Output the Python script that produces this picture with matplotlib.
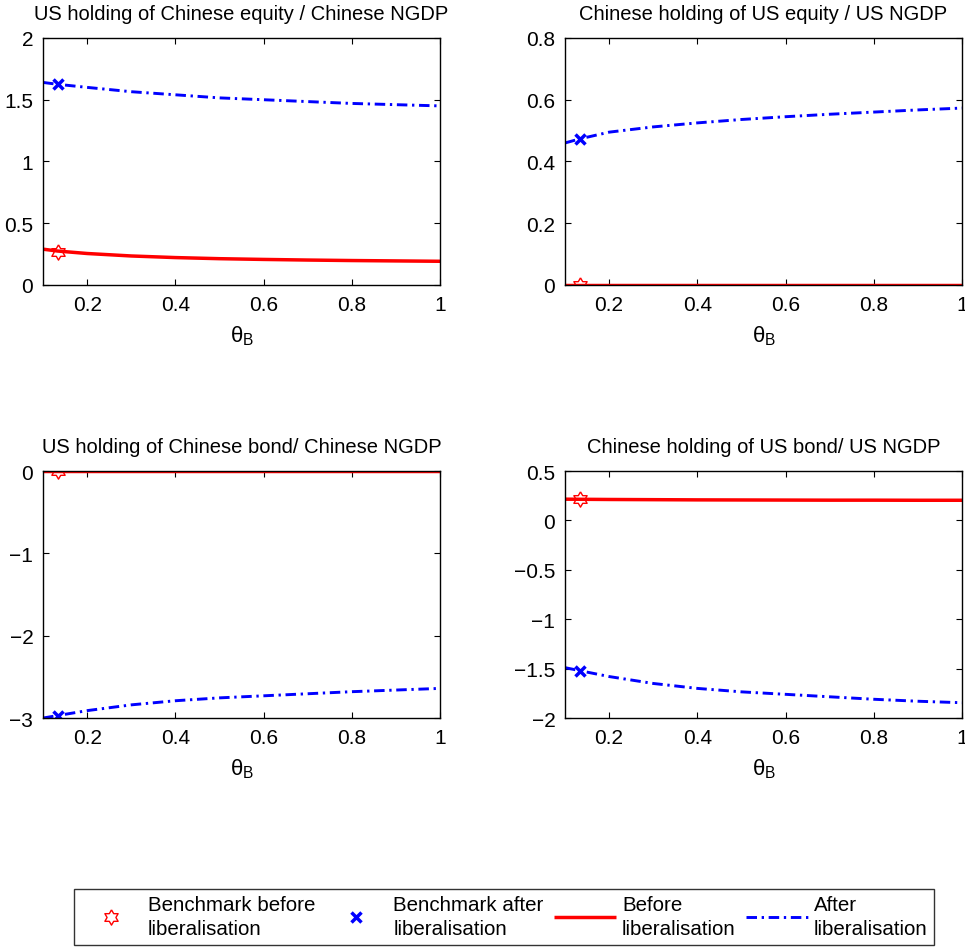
import numpy as np
import matplotlib
matplotlib.use("Agg")
from matplotlib import pyplot as plt

plt.rcParams['font.family'] = ['Liberation Sans', 'DejaVu Sans']
plt.rcParams['mathtext.fontset'] = 'custom'
plt.rcParams['mathtext.rm'] = 'Liberation Sans'
plt.rcParams['mathtext.it'] = 'Liberation Sans'

# theta_B grid
theta = [0.1, 0.133, 0.2, 0.3, 0.4, 0.5, 0.6, 0.7, 0.8, 0.9, 1.0]
theta_bench = 0.133

titles = ["US holding of Chinese equity / Chinese NGDP",
          "Chinese holding of US equity / US NGDP",
          "US holding of Chinese bond/ Chinese NGDP",
          "Chinese holding of US bond/ US NGDP"]

before_us_eq = [0.29, 0.275, 0.255, 0.235, 0.222, 0.213, 0.207, 0.202, 0.198, 0.195, 0.192]
after_us_eq = [1.64, 1.625, 1.60, 1.565, 1.54, 1.515, 1.50, 1.485, 1.47, 1.46, 1.45]
before_cn_eq = [0.0] * 11
after_cn_eq = [0.46, 0.473, 0.495, 0.512, 0.525, 0.536, 0.545, 0.553, 0.56, 0.567, 0.573]
before_us_bd = [0.0] * 11
after_us_bd = [-3.0, -2.97, -2.91, -2.84, -2.79, -2.755, -2.73, -2.705, -2.68, -2.66, -2.64]
before_cn_bd = [0.215, 0.214, 0.212, 0.21, 0.208, 0.207, 0.206, 0.205, 0.205, 0.204, 0.204]
after_cn_bd = [-1.49, -1.52, -1.58, -1.65, -1.70, -1.735, -1.76, -1.785, -1.81, -1.83, -1.845]

bench_before = [0.27, 0.0, 0.0, 0.215]
bench_after = [1.625, 0.473, -2.97, -1.52]

ylims = [(0, 2), (0, 0.8), (-3, 0), (-2, 0.5)]
yticks = [np.arange(0, 2.01, 0.5), np.arange(0, 0.81, 0.2),
          np.arange(-3, 0.01, 1), np.arange(-2, 0.51, 0.5)]
ytick_labels = [["0", "0.5", "1", "1.5", "2"],
                ["0", "0.2", "0.4", "0.6", "0.8"],
                ["\u22123", "\u22122", "\u22121", "0"],
                ["\u22122", "\u22121.5", "\u22121", "\u22120.5", "0", "0.5"]]

befores = [before_us_eq, before_cn_eq, before_us_bd, before_cn_bd]
afters = [after_us_eq, after_cn_eq, after_us_bd, after_cn_bd]

fig = plt.figure(figsize=(9.65, 9.53), dpi=100)
lefts = [0.0446, 0.5855, 0.0446, 0.5855]
bottoms = [0.6999, 0.6999, 0.2455, 0.2455]
w, h = 0.4114, 0.2592

# hexagram marker (star of David outline)
outer = np.deg2rad(90 + np.arange(0, 360, 60))
inner = outer + np.pi / 6
hexagram = []
for a, b in zip(outer, inner):
    hexagram.append((np.cos(a), np.sin(a)))
    hexagram.append((np.cos(b) / np.sqrt(3), np.sin(b) / np.sqrt(3)))
hexagram.append(hexagram[0])

handles = None
for i in range(4):
    ax = fig.add_axes([lefts[i], bottoms[i], w, h])
    lb, = ax.plot(theta, befores[i], color='red', lw=2.5, solid_capstyle='butt')
    la, = ax.plot(theta, afters[i], color='blue', lw=2.1,
                  linestyle=(0, (3.6, 1.6, 0.8, 1.6)))
    ms, = ax.plot([theta_bench], [bench_before[i]], linestyle='none', marker=hexagram,
                  markersize=11, markerfacecolor='none', markeredgecolor='red', markeredgewidth=1)
    mx, = ax.plot([theta_bench], [bench_after[i]], linestyle='none', marker='x',
                  markersize=7, markeredgecolor='blue', markeredgewidth=2.5)
    ax.set_xlim(0.1, 1)
    ax.set_ylim(*ylims[i])
    ax.set_xticks([0.2, 0.4, 0.6, 0.8, 1.0])
    ax.set_xticklabels(["0.2", "0.4", "0.6", "0.8", "1"])
    ax.set_yticks(yticks[i])
    ax.set_yticklabels(ytick_labels[i])
    ax.tick_params(direction='in', top=True, right=True, labelsize=15, length=4, pad=7)
    ax.set_title(titles[i], fontsize=14.5, pad=14)
    ax.set_xlabel(r'$\theta_B$', fontsize=16, labelpad=7)
    for s in ax.spines.values():
        s.set_linewidth(1)
    handles = [ms, mx, lb, la]

leg = fig.legend(handles,
                 ["Benchmark before\nliberalisation", "Benchmark after\nliberalisation",
                  "Before\nliberalisation", "After\nliberalisation"],
                 loc='lower left', bbox_to_anchor=(0.066, -0.003), ncol=4,
                 fontsize=14.8, frameon=True, fancybox=False, edgecolor='black',
                 handlelength=3.0, columnspacing=0.5, handletextpad=0.3,
                 borderpad=0.3, labelspacing=0.1)
leg.get_frame().set_linewidth(1)
for t in leg.get_texts():
    t.set_linespacing(1.35)

fig.savefig("out.png", dpi=100)
